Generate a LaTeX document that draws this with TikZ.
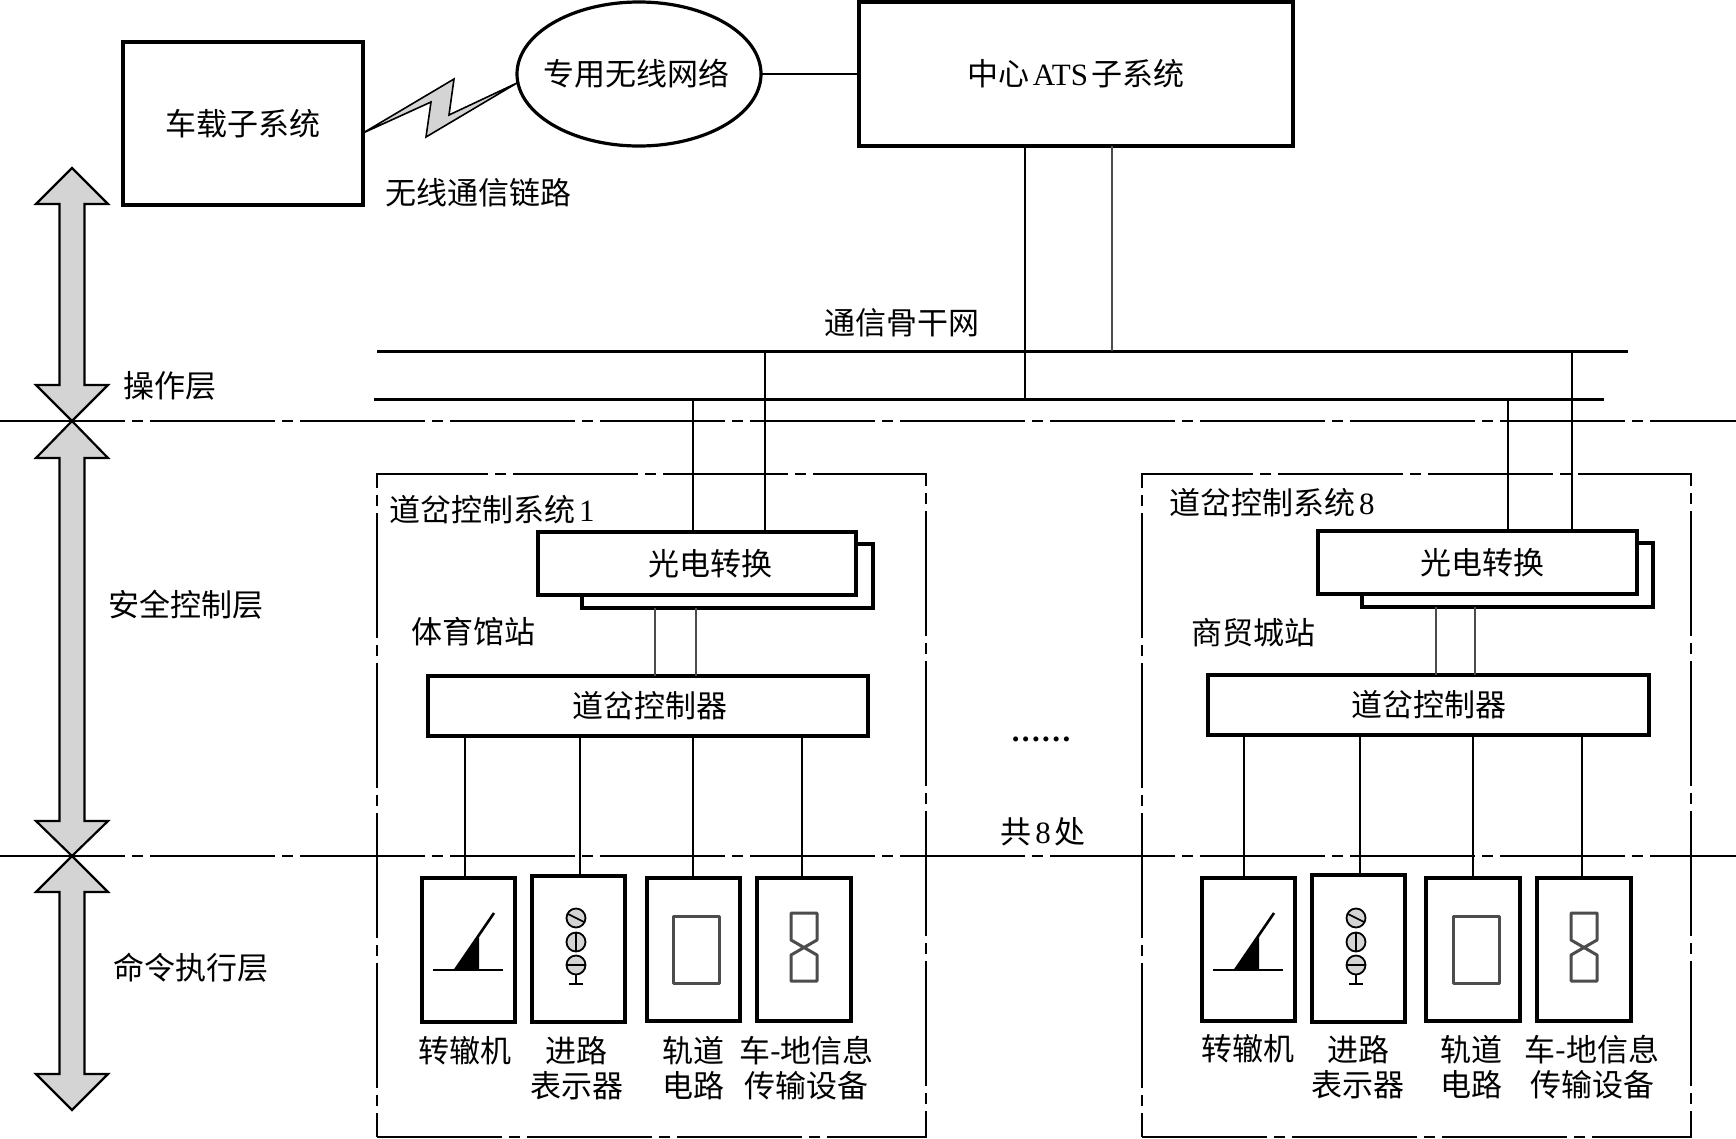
\documentclass[tikz,border=0pt]{standalone}
\usepackage{fontspec}
\setmainfont{Liberation Serif}
\newfontfamily\cjk{Noto Sans CJK SC}
\usetikzlibrary{shapes.geometric}
\newcommand{\lat}[1]{{\rmfamily #1}}
\newcommand{\boxnode}[7][]{\node[#2,#1,minimum width={#5-#3},minimum height={#6-#4}] (#7) at ({(#3+#5)/2},{(#4+#6)/2})}
\newcommand{\dblarrow}[4]{\draw[layerarrow] (72,#1) -- (108,#2) -- (84.5,#2) -- (84.5,#3) -- (108,#3) -- (72,#4) -- (36,#3) -- (59.5,#3) -- (59.5,#2) -- (36,#2) -- cycle;}
\tikzset{
  every node/.style={font=\cjk\fontsize{31}{35}\selectfont,inner sep=0pt,outer sep=0pt,text height=26pt,text depth=2.4pt},
  thickbox/.style={draw=black,fill=white,line width=3.4pt,rectangle},
  thinbox/.style={draw=black,fill=white,line width=3.2pt,rectangle},
  sysbox/.style={draw=black,line width=1.3pt,rectangle,dash pattern=on 125pt off 7pt on 11pt off 7pt},
  axisline/.style={draw=black,line width=1.3pt,dash pattern=on 125pt off 7pt on 11pt off 7pt},
  link/.style={draw=black,line width=1.6pt},
  greylink/.style={draw=black!70,line width=1.6pt},
  busline/.style={fill=black,rectangle,minimum height=3pt,text height=0pt,text depth=0pt},
  layerarrow/.style={draw=black,fill=black!17,line width=2.2pt,line join=miter},
  twoline/.style={align=center,text height=,text depth=},
  icon/.style={draw=black!70,line width=3pt,line join=round},
}
\begin{document}
\begin{tikzpicture}[x=1pt,y=-1pt]
\useasboundingbox (0,0) rectangle (1736,1138);
% system frames
\boxnode{sysbox}{377}{474}{926}{1137}{sys1} {};
\boxnode{sysbox}{1142}{474}{1691}{1137}{sys8} {};
% layer separators
\coordinate (sepa1) at (0,421);
\coordinate (sepa2) at (1736,421);
\coordinate (sepb1) at (0,856);
\coordinate (sepb2) at (1736,856);
\draw[axisline] (sepa1) -- (sepa2);
\draw[axisline] (sepb1) -- (sepb2);
% layer arrows
\dblarrow{168}{204}{385}{421}
\dblarrow{421}{458}{821}{856}
\dblarrow{856}{892}{1074}{1110}
% top nodes
\boxnode{thickbox}{123}{42}{363}{205}{car} {车载子系统};
\node[draw=black,fill=white,line width=3.2pt,ellipse,minimum width=244pt,minimum height=144pt] (net) at (639,74) {\makebox[160pt][c]{\hspace*{-6pt}专用无线网络}};
\boxnode{thickbox}{859}{2}{1293}{146}{ats} {中心\hspace{3pt}\lat{ATS}\hspace{3pt}子系统};
\draw[link] (net.east) -- (net.east -| ats.west);
\draw[fill=black!17,draw=black,line width=1.6pt,line join=miter] (car.east |- 0,133) -- (454,79) -- (449,115) -- (net.west |- 0,83) -- (426,137) -- (431,102) -- cycle;
% buses
\node[busline,minimum width=1251pt] (bus1) at (1002.5,351) {};
\node[busline,minimum width=1230pt] (bus2) at (989,399) {};
\draw[link] (ats.south -| 1025,0) -- (bus2.center -| 1025,0);
\draw[greylink] (ats.south -| 1112,0) -- (bus1.center -| 1112,0);
% left station
\boxnode{thinbox}{582}{544}{873}{608}{pvb1} {};
\boxnode{thinbox}{538}{532}{856}{595}{pv1} {\hspace*{26pt}光电转换};
\boxnode{thinbox}{428}{676}{868}{736}{ctl1} {\hspace*{3pt}道岔控制器};
\draw[link] (bus2.center -| 693,0) -- (pv1.north -| 693,0);
\draw[link] (bus1.center -| 765,0) -- (pv1.north -| 765,0);
\draw[greylink] (pvb1.south -| 655,0) -- (ctl1.north -| 655,0);
\draw[greylink] (pvb1.south -| 696,0) -- (ctl1.north -| 696,0);
\boxnode{thinbox}{422}{878}{515}{1022}{swa} {};
\boxnode{thinbox}{532}{876}{625}{1022}{sga} {};
\boxnode{thinbox}{647}{878}{740}{1021}{tra} {};
\boxnode{thinbox}{757}{878}{851}{1021}{tca} {};
\draw[link] (ctl1.south -| 465,0) -- (swa.north -| 465,0);
\draw[link] (ctl1.south -| 580,0) -- (sga.north -| 580,0);
\draw[link] (ctl1.south -| 693,0) -- (tra.north -| 693,0);
\draw[link] (ctl1.south -| 802,0) -- (tca.north -| 802,0);
% right station
\boxnode{thinbox}{1362}{543}{1653}{607}{pvb8} {};
\boxnode{thinbox}{1318}{531}{1637}{594}{pv8} {\hspace*{10pt}光电转换};
\boxnode{thinbox}{1208}{675}{1649}{735}{ctl8} {道岔控制器};
\draw[link] (bus2.center -| 1508,0) -- (pv8.north -| 1508,0);
\draw[link] (bus1.center -| 1572,0) -- (pv8.north -| 1572,0);
\draw[greylink] (pvb8.south -| 1436,0) -- (ctl8.north -| 1436,0);
\draw[greylink] (pvb8.south -| 1475,0) -- (ctl8.north -| 1475,0);
\boxnode{thinbox}{1202}{878}{1295}{1021}{swb} {};
\boxnode{thinbox}{1312}{875}{1405}{1022}{sgb} {};
\boxnode{thinbox}{1426}{878}{1520}{1021}{trb} {};
\boxnode{thinbox}{1537}{878}{1631}{1021}{tcb} {};
\draw[link] (ctl8.south -| 1244,0) -- (swb.north -| 1244,0);
\draw[link] (ctl8.south -| 1360,0) -- (sgb.north -| 1360,0);
\draw[link] (ctl8.south -| 1473,0) -- (trb.north -| 1473,0);
\draw[link] (ctl8.south -| 1582,0) -- (tcb.north -| 1582,0);
% icons
\foreach \dx in {0,780}{
\begin{scope}[xshift=\dx pt]
  \draw[line width=2.8pt] (433,970) -- (503,970);
  \fill (455,970) -- (479,937) -- (479,970) -- cycle;
  \draw[line width=2.6pt] (455,970) -- (494,913);
  \draw[fill=black!17,line width=1.8pt] (576,918) circle (9.5);
  \draw[fill=black!17,line width=1.8pt] (576,942) circle (9.5);
  \draw[fill=black!17,line width=1.8pt] (576,965) circle (9.5);
  \draw[line width=1.7pt] (568,914) -- (584,922);
  \draw[line width=1.7pt] (576,932.5) -- (576,951.5);
  \draw[line width=1.7pt] (566.5,965) -- (585.5,965);
  \draw[line width=1.7pt] (576,974.5) -- (576,984) (569,984) -- (583,984);
  \draw[icon] (673,916) rectangle (719,983);
  \draw[icon] (791,913) -- (817,913) -- (817,940) -- (791,955) -- (791,981) -- (817,981) -- (817,955) -- (791,940) -- cycle;
\end{scope}
}
% free labels
\node (lwl) at (478,193) {无线通信链路};
\node (lbb) at (902,323) {通信骨干网};
\node (lop) at (170,386) {操作层};
\node (lsf) at (186,605) {安全控制层};
\node (lcm) at (191,968) {命令执行层};
\node[anchor=west] (ls1) at (389,510) {道岔控制系统\hspace{4pt}\lat{1}};
\node[anchor=west] (ls8) at (1169,503) {道岔控制系统\hspace{4pt}\lat{8}};
\node (lt1) at (473,632) {体育馆站};
\node (lt8) at (1253,633) {商贸城站};
\node (ldt) at (1041,729.5) {\lat{\bfseries.\hspace{2.4pt}.\hspace{2.4pt}.\hspace{2.4pt}.\hspace{2.4pt}.\hspace{2.4pt}.}};
\node (lct) at (1043,832) {共\hspace{4pt}\lat{8}\hspace{4pt}处};
\node (lswa) at (465,1051) {转辙机};
\node[twoline] (lsga) at (576.5,1068) {进路\\表示器};
\node[twoline] (ltra) at (693,1068) {轨道\\电路};
\node[twoline] (ltca) at (806.5,1068) {车-地信息\\传输设备};
\node (lswb) at (1248,1049) {转辙机};
\node[twoline] (lsgb) at (1358,1067) {进路\\表示器};
\node[twoline] (ltrb) at (1471.5,1067) {轨道\\电路};
\node[twoline] (ltcb) at (1592,1067) {车-地信息\\传输设备};
\end{tikzpicture}
\end{document}
